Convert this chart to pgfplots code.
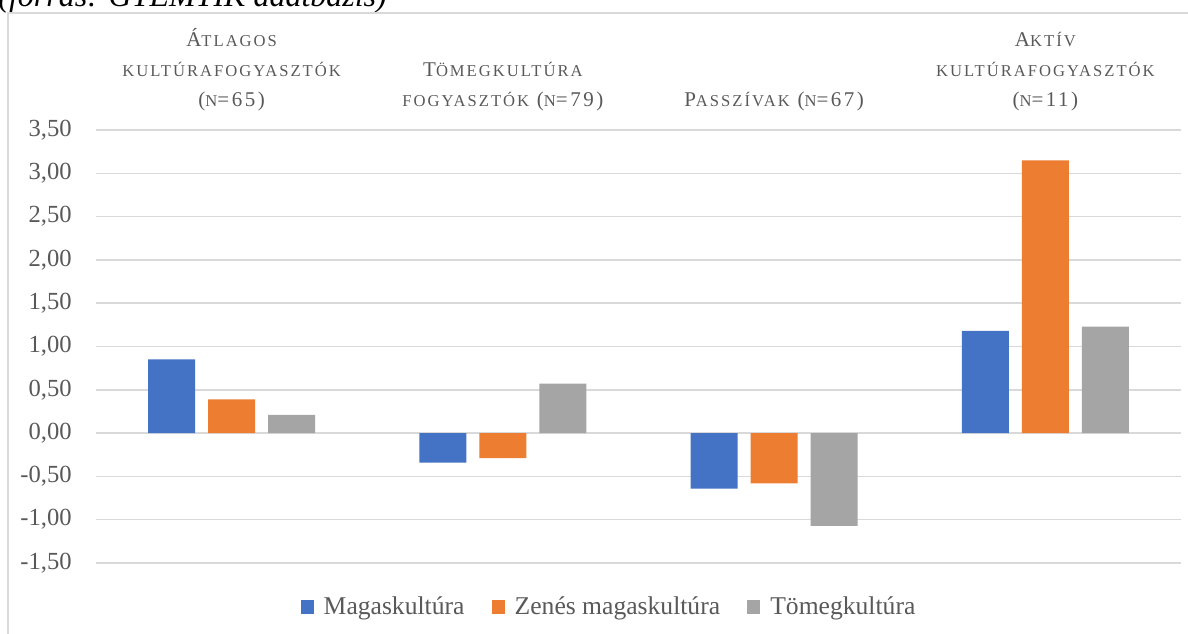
\documentclass[border=0pt]{standalone}
\usepackage{fontspec}
\setmainfont{Liberation Serif}
\usepackage{pgfplots}
\pgfplotsset{compat=1.18}
\definecolor{cblue}{HTML}{4472C4}
\definecolor{corange}{HTML}{ED7D31}
\definecolor{cgray}{HTML}{A5A5A5}
\definecolor{gridc}{HTML}{D9D9D9}
\definecolor{txt}{HTML}{595959}
\newcommand{\sm}[1]{{\fontsize{8.3}{15}\selectfont #1}}
\begin{document}
\begin{tikzpicture}
\useasboundingbox (0,0) rectangle (594pt,316.5pt);
\node[anchor=base west, inner sep=0pt, font=\fontsize{16}{18}\selectfont\itshape] at (-1pt,313pt) {(forrás: GYEMTIK adatbázis)};
\draw[gridc, line width=1pt] (4pt,-2pt) -- (4pt,310pt) -- (600pt,310pt);
\begin{axis}[
  at={(48pt,35pt)}, anchor=south west,
  scale only axis, width=542.5pt, height=216.5pt,
  xmin=-0.5, xmax=3.5, ymin=-1.5, ymax=3.5,
  ytick={-1.5,-1,-0.5,0,0.5,1,1.5,2,2.5,3,3.5},
  xtick=\empty,
  ymajorgrids, grid style={gridc, line width=0.75pt},
  axis line style={draw=none},
  major tick length=0pt,
  ytick style={draw=none},
  /pgf/number format/assume math mode=true,
  yticklabel={\pgfmathprintnumber[fixed,fixed zerofill,precision=2,use comma,1000 sep={}]{\tick}},
  yticklabel style={inner sep=0pt, xshift=-12pt, font=\fontsize{12.3}{14}\selectfont, text=txt},
  ybar, bar width=23.5pt,
  legend columns=3,
  legend style={draw=none, inner sep=0pt, at={(0.4737,-0.1016)}, anchor=center,
    font=\fontsize{12.8}{14}\selectfont, text=txt,
    /tikz/every even column/.append style={column sep=11.5pt},
    /tikz/every odd column/.append style={column sep=3pt}},
  legend cell align=left,
  clip=false,
]
\addplot[fill=cblue, draw=none, bar shift=-30pt, legend image code/.code={\fill[cblue] (0pt,-3.3pt) rectangle (6.6pt,3.3pt);}] coordinates {(0,0.85) (1,-0.34) (2,-0.64) (3,1.18)};
\addplot[fill=corange, draw=none, bar shift=0pt, legend image code/.code={\fill[corange] (0pt,-3.3pt) rectangle (6.6pt,3.3pt);}] coordinates {(0,0.39) (1,-0.29) (2,-0.58) (3,3.15)};
\addplot[fill=cgray, draw=none, bar shift=30pt, legend image code/.code={\fill[cgray] (0pt,-3.3pt) rectangle (6.6pt,3.3pt);}] coordinates {(0,0.21) (1,0.57) (2,-1.07) (3,1.23)};
\legend{Magaskultúra,Zenés magaskultúra,Tömegkultúra}
\begin{scope}[every node/.style={anchor=south, align=center, text=txt, inner sep=0pt,
   font=\fontsize{10.5}{15}\selectfont\addfontfeature{LetterSpace=12}}]
\node at (axis cs:0,3.5) [yshift=9.5pt] {Á\sm{TLAGOS}\\ \sm{KULTÚRAFOGYASZTÓK}\\ (\sm{N}=65)};
\node at (axis cs:1,3.5) [yshift=9.5pt] {T\sm{ÖMEGKULTÚRA}\\ \sm{FOGYASZTÓK} (\sm{N}=79)};
\node at (axis cs:2,3.5) [yshift=9.5pt] {P\sm{ASSZÍVAK} (\sm{N}=67)};
\node at (axis cs:3,3.5) [yshift=9.5pt] {A\sm{KTÍV}\\ \sm{KULTÚRAFOGYASZTÓK}\\ (\sm{N}=11)};
\end{scope}
\end{axis}
\end{tikzpicture}
\end{document}
